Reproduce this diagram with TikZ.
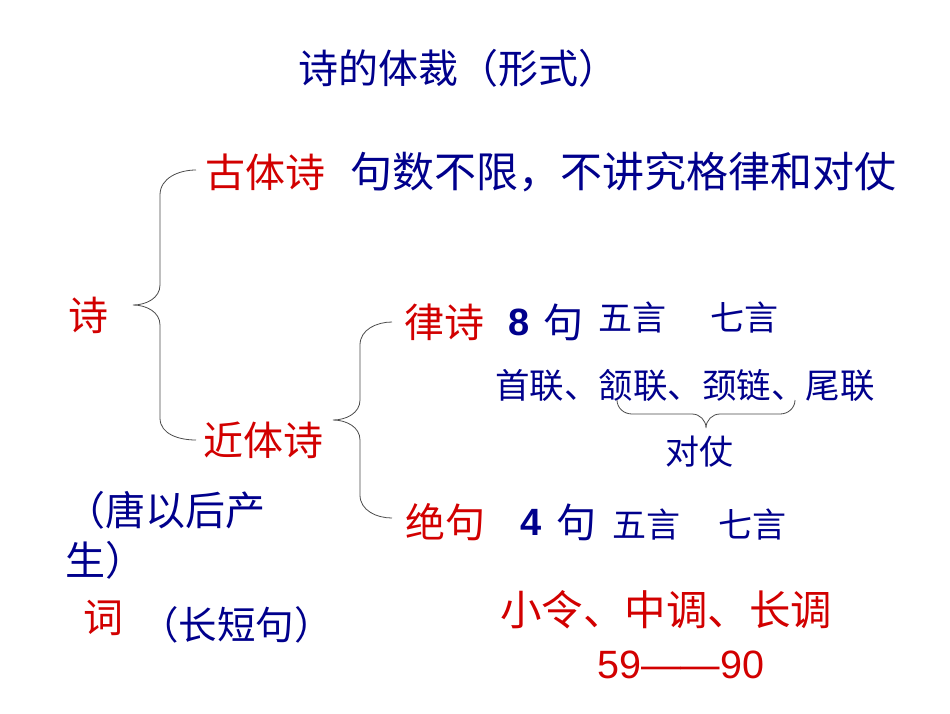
\documentclass[tikz,border=0pt]{standalone}
\usepackage{fontspec}
\newfontfamily\cjk{Noto Sans CJK SC}[BoldFont={Noto Sans CJK SC Bold}]
\setsansfont{Liberation Sans}
\definecolor{nblue}{RGB}{0,0,140}
\definecolor{nred}{RGB}{210,0,0}
\begin{document}
\begin{tikzpicture}[x=1pt,y=-1pt,
  bl/.style={text=nblue,font=\cjk\fontsize{40}{44}\selectfont,inner sep=0pt,anchor=west},
  rd/.style={text=nred,font=\cjk\fontsize{40}{44}\selectfont,inner sep=0pt,anchor=west},
  sm/.style={text=nblue,font=\cjk\fontsize{34}{36}\selectfont,inner sep=0pt,anchor=west},
  num/.style={font=\sffamily\bfseries\fontsize{38}{40}\selectfont,inner sep=0pt,anchor=west},
  br/.style={draw=black!70,line width=0.8pt}]
\useasboundingbox[fill=white] (0,0) rectangle (950,713);
\node[bl,font=\cjk\fontsize{40}{44}\selectfont] (title) at (298,68) {诗的体裁（形式）};
\node[rd] (gu) at (205,172) {古体诗};
\node[bl,font=\cjk\fontsize{42}{44}\selectfont] (gud) at (350,172) {句数不限，不讲究格律和对仗};
\node[rd] (shi) at (68,315) {诗};
\node[rd] (jin) at (203,440) {近体诗};
\node[rd] (lv) at (404,322) {律诗};
\node[num,text=nblue] (lv8) at (508,322) {8};
\node[bl] (lvj) at (543,322) {句};
\node[sm] (lv5) at (598,318) {五言};
\node[sm] (lv7) at (710,318) {七言};
\node[sm,font=\cjk\fontsize{34.5}{36}\selectfont] (lian) at (495,385) {首联、颔联、颈链、尾联};
\node[sm] (dz) at (665,452) {对仗};
\node[rd] (jue) at (405,522) {绝句};
\node[num,text=nblue] (j4) at (520,522) {4};
\node[bl] (jj) at (556,522) {句};
\node[sm] (j5) at (612,525) {五言};
\node[sm] (j7) at (718,525) {七言};
\node[bl] (tang) at (65,510) {（唐以后产};
\node[bl] (sheng) at (65,560) {生）};
\node[rd] (ci) at (83,618) {词};
\node[bl,font=\cjk\fontsize{38.5}{40}\selectfont] (cd) at (140,625) {（长短句）};
\node[rd,font=\cjk\fontsize{41.5}{44}\selectfont] (xl) at (500,610) {小令、中调、长调};
\node[num,font=\sffamily\fontsize{39.5}{40}\selectfont,text=nred] (nums) at (597,665) {59——90};
% big brace
\draw[br] (196,170) to[out=180,in=90] (160,195) -- (160,285)
  to[out=-90,in=0] (133,305) to[out=0,in=90] (160,325) -- (160,418)
  to[out=-90,in=180] (196,440);
% second brace
\draw[br] (392,322) to[out=180,in=90] (360,345) -- (360,400)
  to[out=-90,in=0] (333,420) to[out=0,in=90] (360,440) -- (360,495)
  to[out=-90,in=180] (392,518);
% small brace under lianxu
\draw[br] (617,400) to[out=-90,in=180] (632,414) -- (692,414)
  to[out=0,in=90] (706,428) to[out=90,in=180] (720,414) -- (780,414)
  to[out=0,in=-90] (795,400);
\end{tikzpicture}
\end{document}
